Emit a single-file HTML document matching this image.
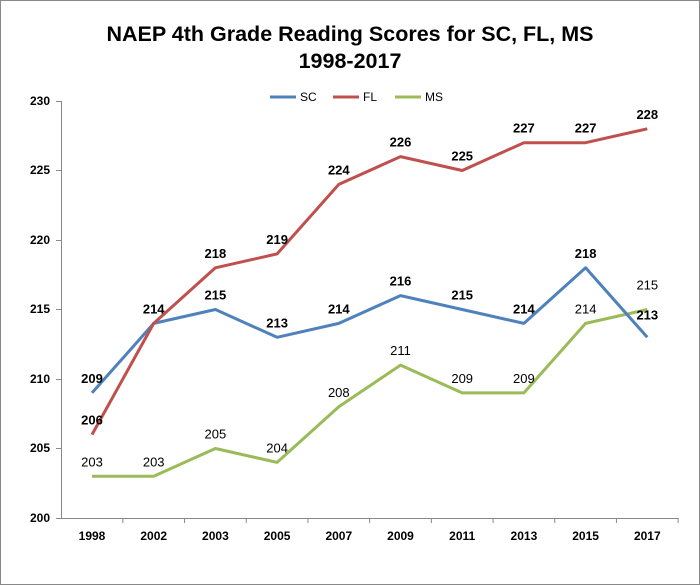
<!DOCTYPE html>
<html><head><meta charset="utf-8"><style>
body{margin:0;background:#fff;}
svg{display:block;font-family:"Liberation Sans",Arial,sans-serif;}
</style></head><body>
<svg width="700" height="585" viewBox="0 0 700 585">
<rect x="0.5" y="0.5" width="699" height="584" fill="#fff" stroke="#888" stroke-width="1"/>
<text x="350" y="41" text-anchor="middle" font-size="21.5" font-weight="bold">NAEP 4th Grade Reading Scores for SC, FL, MS</text>
<text x="350" y="68" text-anchor="middle" font-size="21.5" font-weight="bold">1998-2017</text>
<g font-size="12">
<line x1="270" y1="97" x2="296" y2="97" stroke="#4F81BD" stroke-width="3"/><text x="300" y="101">SC</text>
<line x1="333" y1="97" x2="359" y2="97" stroke="#C0504D" stroke-width="3"/><text x="363" y="101">FL</text>
<line x1="395" y1="97" x2="421" y2="97" stroke="#9BBB59" stroke-width="3"/><text x="425" y="101">MS</text>
</g>
<g stroke="#888" stroke-width="1">
<line x1="61.5" y1="101" x2="61.5" y2="518"/>
<line x1="61" y1="518.5" x2="678" y2="518.5"/>
<line x1="56" y1="101.5" x2="61" y2="101.5"/><line x1="56" y1="170.5" x2="61" y2="170.5"/>
<line x1="56" y1="240.5" x2="61" y2="240.5"/><line x1="56" y1="309.5" x2="61" y2="309.5"/>
<line x1="56" y1="379.5" x2="61" y2="379.5"/><line x1="56" y1="448.5" x2="61" y2="448.5"/>
<line x1="56" y1="518.5" x2="61" y2="518.5"/>
</g>
<g font-size="12" font-weight="bold" text-anchor="end">
<text x="50" y="105">230</text><text x="50" y="174">225</text><text x="50" y="244">220</text>
<text x="50" y="313">215</text><text x="50" y="383">210</text><text x="50" y="452">205</text><text x="50" y="522">200</text>
</g>
<g id="xl" font-size="12" font-weight="bold" text-anchor="middle"></g>
<g id="ser"></g>
</svg>
<script>
var X=i=>92+i*61.7, Y=v=>518-(v-200)*13.9;
var yrs=[1998,2002,2003,2005,2007,2009,2011,2013,2015,2017];
var ns="http://www.w3.org/2000/svg";
var xl=document.getElementById('xl'),ser=document.getElementById('ser');
function el(t,a,p,txt){var e=document.createElementNS(ns,t);for(var k in a)e.setAttribute(k,a[k]);if(txt!=null)e.textContent=txt;p.appendChild(e);return e;}
yrs.forEach((y,i)=>{el('text',{x:X(i),y:540},xl,y);el('line',{x1:X(i)+30.85,y1:518,x2:X(i)+30.85,y2:523,stroke:'#888'},xl);});
var S={SC:[209,214,215,213,214,216,215,214,218,213],FL:[206,214,218,219,224,226,225,227,227,228],MS:[203,203,205,204,208,211,209,209,214,215]};
var C={SC:'#4F81BD',FL:'#C0504D',MS:'#9BBB59'};
['MS','SC','FL'].forEach(k=>{el('polyline',{points:S[k].map((v,i)=>X(i)+','+Y(v)).join(' '),fill:'none',stroke:C[k],'stroke-width':3,'stroke-linejoin':'round'},ser);});
['SC','FL','MS'].forEach(k=>{S[k].forEach((v,i)=>{
 if(k=='SC'&&i==1)return;
 var y=Y(v)-10,x=X(i);
 if(k=='SC'&&i==9){y=Y(v)-18;}
 if(k=='MS'&&i==9){y=Y(v)-20;}
 el('text',{x:x,y:y,'font-size':13,'font-weight':k=='MS'?'normal':'bold','text-anchor':'middle'},ser,v);
});});
</script>
</body></html>
